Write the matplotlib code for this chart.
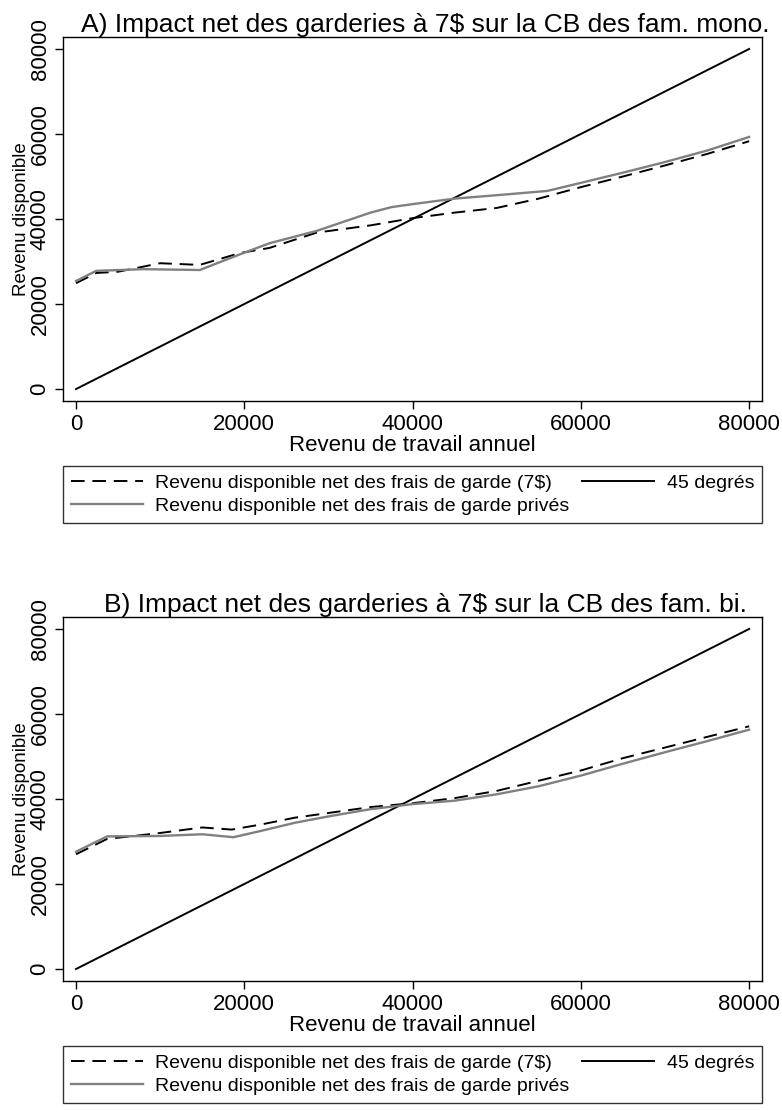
import matplotlib
matplotlib.use("Agg")
import matplotlib.pyplot as plt

plt.rcParams['font.family'] = ['Liberation Sans', 'DejaVu Sans']

# Panel A : familles monoparentales
xa_7 = [0, 2400, 5000, 10000, 14700, 19500, 23000, 28600, 35000, 40000, 45000, 50000, 55000, 60000, 65000, 70000, 75000, 80000]
ya_7 = [24900, 27300, 27600, 29600, 29200, 32000, 33200, 36800, 38500, 40200, 41500, 42600, 44800, 47500, 50000, 52600, 55300, 58300]
xa_p = [0, 2400, 8000, 14700, 19500, 23000, 28600, 35000, 37500, 40000, 45000, 50000, 56000, 60000, 65000, 70000, 75000, 80000]
ya_p = [25400, 27800, 28200, 28000, 31700, 34300, 37200, 41500, 42800, 43500, 44800, 45600, 46600, 48500, 50900, 53400, 56100, 59300]

# Panel B : familles biparentales
xb_7 = [0, 3700, 10000, 15000, 18500, 22000, 26000, 30000, 35000, 40000, 45000, 50000, 55000, 60000, 65000, 70000, 75000, 80000]
yb_7 = [27000, 30600, 32000, 33300, 32800, 34000, 35600, 36700, 38100, 39000, 40200, 41900, 44300, 46700, 49600, 52100, 54600, 57100]
xb_p = [0, 3700, 10000, 15000, 18700, 22000, 26000, 30000, 35000, 40000, 45000, 50000, 55000, 60000, 65000, 70000, 75000, 80000]
yb_p = [27600, 31200, 31300, 31700, 31000, 32500, 34400, 35900, 37600, 38800, 39600, 41100, 43000, 45500, 48300, 51000, 53600, 56300]

diag = [0, 80000]

titles = ["A) Impact net des garderies à 7$ sur la CB des fam. mono.",
          "B) Impact net des garderies à 7$ sur la CB des fam. bi."]
lab_7 = "Revenu disponible net des frais de garde (7$)"
lab_p = "Revenu disponible net des frais de garde privés"
lab_45 = "45 degrés"
ticks = [0, 20000, 40000, 60000, 80000]

fig = plt.figure(figsize=(7.82, 11.10), dpi=100)
axA = fig.add_axes([0.0806, 0.6387, 0.894, 0.328])
axB = fig.add_axes([0.0806, 0.1162, 0.894, 0.328])

panels = [(axA, xa_7, ya_7, xa_p, ya_p), (axB, xb_7, yb_7, xb_p, yb_p)]
for i, (ax, x7, y7, xp, yp) in enumerate(panels):
    l7, = ax.plot(x7, y7, color='black', linestyle=(0, (7, 4)), linewidth=1.4)
    l45, = ax.plot(diag, diag, color='black', linewidth=1.4)
    lp, = ax.plot(xp, yp, color='#808080', linewidth=1.7)
    ax.set_xlim(-1545, 81545)
    ax.set_ylim(-2824, 82824)
    ax.set_xticks(ticks)
    ax.set_yticks(ticks)
    ax.tick_params(labelsize=16, length=6, width=1, direction='out', pad=3)
    for lab in ax.get_yticklabels():
        lab.set_rotation(90)
        lab.set_va('center')
    ax.set_xlabel("Revenu de travail annuel", fontsize=16, labelpad=0)
    ax.set_ylabel("Revenu disponible", fontsize=13.5)
    ax.yaxis.set_label_coords(-0.047, 0.5)
    ax.set_title(titles[i], fontsize=19, pad=3, x=0.518)
    for s in ax.spines.values():
        s.set_linewidth(1)
    leg = ax.legend([l7, lp, l45], [lab_7, lab_p, lab_45], ncol=2,
                    loc='upper left', bbox_to_anchor=(0, -0.4, 1, 0.221),
                    mode='expand', fontsize=14, frameon=True, fancybox=False,
                    edgecolor='black', handlelength=3.7, borderaxespad=0,
                    borderpad=0.4, columnspacing=0.6, handletextpad=0.65,
                    labelspacing=0.3)
    leg.get_frame().set_linewidth(1)

fig.savefig("out.png", dpi=100, facecolor='white')
